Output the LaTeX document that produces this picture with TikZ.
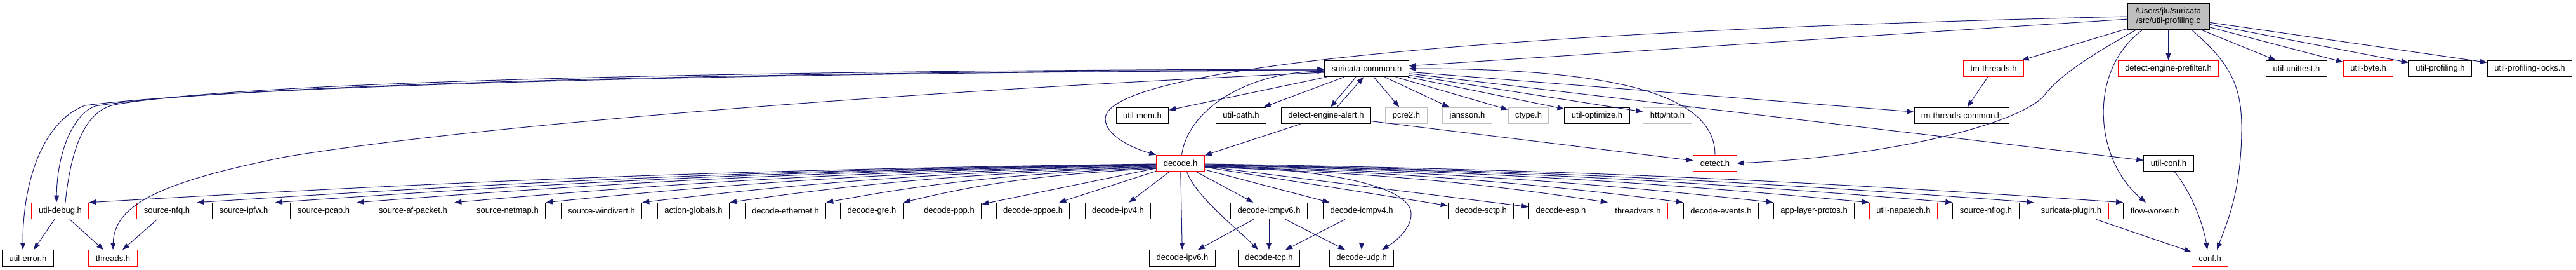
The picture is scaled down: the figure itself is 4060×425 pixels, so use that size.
\documentclass[tikz,border=0pt]{standalone}
\usepackage{fontspec}
\setmainfont{Liberation Sans}
\usetikzlibrary{arrows.meta}
\definecolor{edgeblue}{HTML}{191970}
\definecolor{sysgray}{HTML}{BFBFBF}
\definecolor{rootgray}{HTML}{BFBFBF}
\definecolor{redb}{HTML}{FF0000}
\newcommand\decL[3]{\draw[edge] ([yshift=-#3pt]decode.west) .. controls +({-0.4*#2},9) and +({0.35*#2},-34) .. (#1.north east);}
\newcommand\decR[3]{\draw[edge] ([yshift=-#3pt]decode.east) .. controls +({0.4*#2},9) and +({-0.35*#2},-34) .. (#1.north west);}
\begin{document}
\begin{tikzpicture}[x=1pt,y=-1pt,
  hdr/.style={draw=black,line width=1.1pt,fill=white,inner xsep=11pt,inner ysep=0pt,minimum height=25.5pt,font=\fontsize{13}{15}\selectfont},
  redh/.style={hdr,draw=redb},
  sysh/.style={hdr,draw=sysgray},
  rooth/.style={hdr,fill=rootgray,align=center,minimum height=40pt,minimum width=129pt},
  edge/.style={draw=edgeblue,line width=1pt,-{Triangle[length=11pt,width=8pt]}}]
\useasboundingbox (0,0) rectangle (4060,425);

% row 0
\node[rooth] (root) at (3417.5,26) {/Users/jlu/suricata\\/src/util-profiling.c};
% row 1
\node[hdr]  (sc)     at (2154,108)   {suricata-common.h};
\node[redh] (tmt)    at (3142,108)   {tm-threads.h};
\node[redh] (dep)    at (3417.5,108) {detect-engine-prefilter.h};
\node[hdr]  (uut)    at (3619.5,108) {util-unittest.h};
\node[redh] (ubyte)  at (3732.6,108) {util-byte.h};
\node[hdr]  (uprof)  at (3846,108)   {util-profiling.h};
\node[hdr]  (uprofl) at (3987,108)   {util-profiling-locks.h};
% row 2
\node[hdr]  (umem)  at (1800.5,182) {util-mem.h};
\node[hdr]  (upath) at (1956,182)   {util-path.h};
\node[hdr]  (dea)   at (2090,182)   {detect-engine-alert.h};
\node[sysh] (pcre)  at (2216.5,182) {pcre2.h};
\node[sysh] (jans)  at (2312.5,182) {jansson.h};
\node[sysh] (ctype) at (2409,182)   {ctype.h};
\node[hdr]  (uopt)  at (2517,182)   {util-optimize.h};
\node[sysh] (htp)   at (2628,182)   {http/htp.h};
\node[hdr]  (tmtc)  at (3091.5,182) {tm-threads-common.h};
% row 3
\node[redh] (decode) at (1860.5,257) {decode.h};
\node[redh] (detect) at (2703,257)   {detect.h};
\node[hdr]  (uconf)  at (3418,257)   {util-conf.h};
% row 4
\node[redh] (udebug)    at (95,332)     {util-debug.h};
\node[redh] (nfq)       at (263,332)    {source-nfq.h};
\node[hdr]  (ipfw)      at (384,332)    {source-ipfw.h};
\node[hdr]  (pcap)      at (510,332)    {source-pcap.h};
\node[redh] (afp)       at (651,332)    {source-af-packet.h};
\node[hdr]  (netmap)    at (800,332)    {source-netmap.h};
\node[hdr]  (windivert) at (948,332)    {source-windivert.h};
\node[hdr]  (actg)      at (1093,332)   {action-globals.h};
\node[hdr]  (eth)       at (1238,332)   {decode-ethernet.h};
\node[hdr]  (gre)       at (1374,332)   {decode-gre.h};
\node[hdr]  (ppp)       at (1496,332)   {decode-ppp.h};
\node[hdr]  (pppoe)     at (1628,332)   {decode-pppoe.h};
\node[hdr]  (ipv4)      at (1762,332)   {decode-ipv4.h};
\node[hdr]  (icmp6)     at (2000,332)   {decode-icmpv6.h};
\node[hdr]  (icmp4)     at (2146,332)   {decode-icmpv4.h};
\node[hdr]  (sctp)      at (2334,332)   {decode-sctp.h};
\node[hdr]  (esp)       at (2460,332)   {decode-esp.h};
\node[redh] (tv)        at (2581.5,332) {threadvars.h};
\node[hdr]  (events)    at (2712.5,332) {decode-events.h};
\node[hdr]  (alp)       at (2859,332)   {app-layer-protos.h};
\node[redh] (napa)      at (3000,332)   {util-napatech.h};
\node[hdr]  (nflog)     at (3130,332)   {source-nflog.h};
\node[redh] (plugin)    at (3264.5,332) {suricata-plugin.h};
\node[hdr]  (fw)        at (3396,332)   {flow-worker.h};
% row 5
\node[hdr]  (uerr)    at (44,406.5)   {util-error.h};
\node[redh] (threads) at (178,406.5)  {threads.h};
\node[hdr]  (ipv6)    at (1863.5,406.5) {decode-ipv6.h};
\node[hdr]  (tcp)     at (2000,406.5) {decode-tcp.h};
\node[hdr]  (udp)     at (2146,406.5) {decode-udp.h};
\node[redh] (conf)    at (3483,406.5) {conf.h};

% root edges
\draw[edge] (root) -- (dep);
\draw[edge] (root) -- (uut);
\draw[edge] (root) -- (ubyte);
\draw[edge] (root) -- (uprof);
\draw[edge] (root) -- (uprofl);
\draw[edge] (root) -- (tmt);
\draw[edge] (root) -- (sc);
\draw[edge] (root.west) .. controls (2300,50) and (1742,110) .. (1742,187) .. controls (1742,215) and (1790,235) .. (decode.north west);
\draw[edge] ([xshift=-50pt]root.south) .. controls (3290,90) and (3245,120) .. (3222,150) .. controls (3190,190) and (3000,245) .. (detect.east);
\draw[edge] ([xshift=-40pt]root.south) .. controls (3290,110) and (3300,250) .. ([xshift=-14pt]fw.north);
\draw[edge] ([xshift=36pt]root.south) .. controls (3510,95) and (3533,130) .. (3533,200) .. controls (3533,300) and (3510,350) .. ([xshift=11pt]conf.north);

% misc
\draw[edge] (tmt) -- (tmtc);
\draw[edge] ([xshift=9pt]uconf.south) .. controls (3452,300) and (3472,350) .. ([xshift=-4pt]conf.north);
\draw[edge] (plugin) -- (conf);

% suricata-common edges
\draw[edge] (sc) -- (umem);
\draw[edge] (sc) -- (upath);
\draw[edge] ([xshift=-17pt]sc.south) -- ([xshift=7pt]dea.north);
\draw[edge] ([xshift=17pt]dea.north) -- ([xshift=-5pt]sc.south);
\draw[edge] (sc) -- (pcre);
\draw[edge] (sc) -- (jans);
\draw[edge] (sc) -- (ctype);
\draw[edge] (sc) -- (uopt);
\draw[edge] (sc) -- (htp);
\draw[edge] (sc) -- (tmtc);
\draw[edge] (sc) -- (uconf);
\draw[edge] ([yshift=-2pt]sc.west) .. controls (1300,112) and (380,130) .. (150,167) .. controls (115,180) and (90,240) .. ([xshift=-6pt]udebug.north);
\draw[edge] ([yshift=-3pt]sc.west) .. controls (1300,113) and (400,132) .. (134,166) .. controls (70,190) and (36,280) .. ([xshift=-8pt]uerr.north);
\draw[edge] ([yshift=-6pt]sc.west) .. controls (1300,150) and (700,205) .. (450,247) .. controls (260,285) and (180,320) .. (threads.north);
\draw[edge] ([xshift=8pt]udebug.north) .. controls (110,250) and (128,176) .. (180,165) .. controls (400,125) and (1300,110) .. ([yshift=-1pt]sc.west);
\draw[edge] ([xshift=2pt]decode.north) .. controls (1872,175) and (1960,115) .. ([yshift=-4pt]sc.west);
\draw[edge] (detect.north) .. controls (2703,150) and (2550,108) .. (sc.east);

% detect-engine-alert edges
\draw[edge] (dea) -- (decode);
\draw[edge] (dea) -- (detect);

% decode fan
\decL{udebug}{1683}{1}
\decL{nfq}{1513}{1.5}
\decL{ipfw}{1389}{2}
\decL{pcap}{1261}{2.5}
\decL{afp}{1106}{3}
\decL{netmap}{963}{4}
\decL{windivert}{811}{5}
\decL{actg}{673}{6}
\decL{eth}{522}{7}
\decL{gre}{400}{8}
\draw[edge] (decode) -- (ppp);
\draw[edge] (decode) -- (pppoe);
\draw[edge] (decode) -- (ipv4);
\draw[edge] (decode) -- (ipv6);
\draw[edge] ([xshift=10pt]decode.south) .. controls (1885,310) and (1950,360) .. ([xshift=-17pt]tcp.north);
\draw[edge] (decode) -- (icmp6);
\draw[edge] (decode) -- (icmp4);
\draw[edge] ([yshift=-5pt]decode.east) .. controls (2100,265) and (2225,295) .. (2224,337) .. controls (2224,360) and (2200,380) .. ([xshift=32pt]udp.north);
\draw[edge] (decode) -- (sctp);
\draw[edge] (decode) -- (esp);
\decR{tv}{636}{6}
\decR{events}{755}{5}
\decR{alp}{898}{4}
\decR{napa}{1049}{3}
\decR{nflog}{1179}{2.5}
\decR{plugin}{1308}{2}
\decR{fw}{1449}{1}

% lower edges
\draw[edge] (udebug) -- (uerr);
\draw[edge] (udebug) -- (threads);
\draw[edge] (nfq) -- (threads);
\draw[edge] (icmp6) -- (ipv6);
\draw[edge] (icmp6) -- (tcp);
\draw[edge] (icmp6) -- (udp);
\draw[edge] (icmp4) -- (tcp);
\draw[edge] (icmp4) -- (udp);
\end{tikzpicture}
\end{document}
